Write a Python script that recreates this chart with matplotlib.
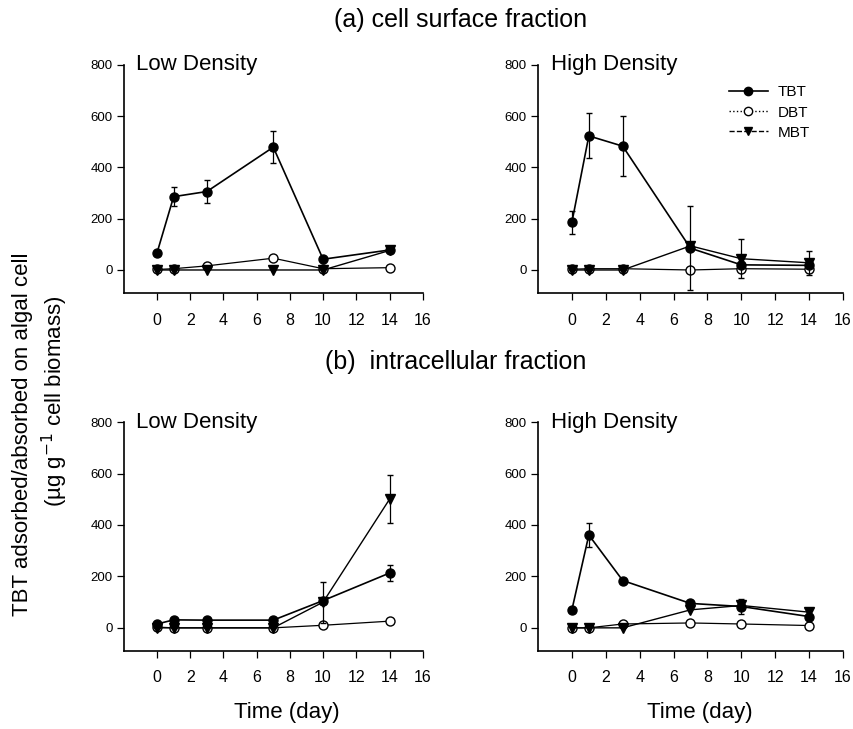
import matplotlib
matplotlib.use("Agg")
import matplotlib.pyplot as plt
from matplotlib.lines import Line2D

plt.rcParams['font.family'] = ['Liberation Sans', 'DejaVu Sans']

days = [0, 1, 3, 7, 10, 14]

# (a) cell surface fraction, low density
a_low_tbt = [67, 286, 306, 479, 42, 78]
a_low_tbt_err = [8, 37, 45, 62, 5, 8]
a_low_dbt = [2, 5, 16, 46, 5, 9]
a_low_mbt = [0, 0, 0, 0, 0, 76]

# (a) cell surface fraction, high density
a_high_tbt = [186, 523, 483, 85, 20, 18]
a_high_tbt_err = [44, 88, 118, 163, 10, 8]
a_high_dbt = [3, 5, 5, 0, 5, 3]
a_high_mbt = [0, 0, 0, 94, 44, 28]
a_high_mbt_err = [0, 0, 0, 0, 75, 46]

# (b) intracellular fraction, low density
b_low_tbt = [15, 31, 30, 30, 106, 213]
b_low_tbt_err = [3, 3, 3, 3, 8, 32]
b_low_dbt = [3, 0, 0, 0, 10, 26]
b_low_mbt = [0, 0, 0, 0, 100, 500]
b_low_mbt_err = [0, 0, 0, 0, 80, 94]

# (b) intracellular fraction, high density
b_high_tbt = [70, 361, 184, 95, 83, 44]
b_high_tbt_err = [5, 46, 10, 8, 28, 8]
b_high_dbt = [0, 0, 15, 19, 15, 9]
b_high_mbt = [0, 0, 0, 70, 87, 61]

fig = plt.figure(figsize=(8.54, 7.29), dpi=100)

# axes boxes in figure fractions
boxes = [
    [0.145, 0.598, 0.350, 0.313],
    [0.630, 0.598, 0.357, 0.313],
    [0.145, 0.107, 0.350, 0.314],
    [0.630, 0.107, 0.357, 0.314],
]
panels = [
    ("Low Density", a_low_tbt, a_low_tbt_err, a_low_dbt, a_low_mbt, None),
    ("High Density", a_high_tbt, a_high_tbt_err, a_high_dbt, a_high_mbt, a_high_mbt_err),
    ("Low Density", b_low_tbt, b_low_tbt_err, b_low_dbt, b_low_mbt, b_low_mbt_err),
    ("High Density", b_high_tbt, b_high_tbt_err, b_high_dbt, b_high_mbt, None),
]

for i, (box, (label, tbt, tbt_err, dbt, mbt, mbt_err)) in enumerate(zip(boxes, panels)):
    ax = fig.add_axes(box)
    ax.plot(days, dbt, color='black', lw=0.9, marker='o', ms=6.5,
            mfc='white', mec='black', mew=1.0, zorder=3)
    ax.errorbar(days, mbt, yerr=mbt_err, color='black', lw=1.0, marker='v',
                ms=6.5, capsize=2.5, elinewidth=0.9, zorder=4)
    ax.errorbar(days, tbt, yerr=tbt_err, color='black', lw=1.2, marker='o',
                ms=6.5, capsize=2.5, elinewidth=0.9, zorder=5)
    ax.set_xlim(-2, 16)
    ax.set_ylim(-90, 800)
    ax.set_xticks(range(0, 17, 2))
    ax.set_yticks(range(0, 801, 200))
    for s in ['top', 'right']:
        ax.spines[s].set_visible(False)
    ax.spines['left'].set_linewidth(1.2)
    ax.spines['bottom'].set_linewidth(1.2)
    ax.tick_params(direction='out', length=5, width=0.9)
    ax.tick_params(axis='x', pad=9, labelsize=11.5)
    ax.tick_params(axis='y', pad=3, labelsize=9.5)
    ax.text(-1.25, 800, label, fontsize=16, va='center', ha='left')
    if i == 1:
        handles = [
            Line2D([], [], color='black', lw=1.2, marker='o', ms=6),
            Line2D([], [], color='black', lw=1.0, ls=':', marker='o', ms=6,
                   mfc='white'),
            Line2D([], [], color='black', lw=1.0, ls='--', marker='v', ms=6),
        ]
        ax.legend(handles, ['TBT', 'DBT', 'MBT'], loc='upper left',
                  bbox_to_anchor=(0.58, 0.97), frameon=False, fontsize=11,
                  handlelength=2.6, labelspacing=0.4, handletextpad=0.6)

fig.text(0.539, 0.973, "(a) cell surface fraction", ha='center', va='center',
         fontsize=18)
fig.text(0.534, 0.503, "(b)  intracellular fraction", ha='center',
         va='center', fontsize=18)
fig.text(0.336, 0.022, "Time (day)", ha='center', va='center', fontsize=16)
fig.text(0.82, 0.022, "Time (day)", ha='center', va='center', fontsize=16)
fig.text(0.026, 0.405, "TBT adsorbed/absorbed on algal cell", rotation=90,
         ha='center', va='center', fontsize=16)
fig.text(0.064, 0.45, "(µg g$^{-1}$ cell biomass)", rotation=90,
         ha='center', va='center', fontsize=16)

fig.savefig("out.png", dpi=100)
